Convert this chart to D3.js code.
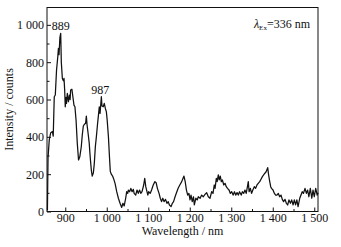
<!DOCTYPE html>
<html>
<head>
<meta charset="utf-8">
<script src="https://cdn.jsdelivr.net/npm/d3@7"></script>
<style>
  body { margin: 0; background: #fff; }
  text { font-family: "Liberation Serif", "Times New Roman", serif; }
</style>
</head>
<body>
<div id="chart"></div>
<script>
// emission spectrum
const wavelength = [857, 858.5, 861.5, 865, 869, 871, 873.5, 876, 879, 882, 883.5, 885, 887, 889, 890.5, 893, 895.5, 897, 898.6, 900,
  901.7, 903, 905, 907.6, 910, 911.7, 913, 916, 918.6, 921, 923.3, 926, 929, 932, 935, 938.6, 941, 943.5, 946.8, 949,
  950.8, 952.5, 955, 957.8, 959.4, 961, 962.8, 965, 967.8, 970, 972.5, 975, 977.6, 979.6, 982, 983.8, 987, 988.5, 991.5, 994,
  996.6, 999, 1001, 1004, 1006.5, 1008.5, 1011, 1014, 1016.5, 1020, 1024, 1028, 1032, 1036, 1039, 1042, 1045.6, 1048, 1050.5, 1052,
  1055, 1058, 1061, 1064, 1066, 1069.7, 1073, 1076, 1079, 1082, 1085, 1089, 1091.5, 1094, 1096, 1099, 1101, 1104.6, 1108, 1112,
  1116, 1119, 1122, 1126, 1129, 1132, 1135, 1138, 1141.6, 1145, 1148, 1151, 1155, 1158, 1161, 1164.6, 1168, 1172, 1176, 1180.6,
  1183.8, 1186, 1189, 1192, 1195, 1198, 1200.6, 1203, 1206, 1209, 1211, 1214.6, 1218, 1220.6, 1225, 1228.6, 1232.6, 1236.7, 1240.7, 1244.7,
  1248.7, 1252.8, 1256, 1259, 1261, 1264, 1266, 1268.8, 1271, 1273.6, 1276, 1278.6, 1282, 1285, 1288, 1291, 1294.6, 1297.8, 1301, 1304.5,
  1307.7, 1310.7, 1314, 1317, 1320, 1324, 1326.8, 1330, 1333, 1336, 1339, 1341, 1343, 1346, 1349, 1352, 1355.5, 1358.7, 1362, 1365,
  1368.5, 1371.7, 1375, 1378, 1381, 1384, 1387.8, 1390, 1392.7, 1395, 1397, 1400.6, 1404, 1407, 1410, 1413.4, 1416.6, 1419.9, 1423, 1426,
  1429.6, 1432.7, 1436, 1439, 1442.5, 1445.6, 1449, 1452, 1455, 1458, 1461, 1465, 1468, 1471, 1474, 1477.7, 1481, 1484, 1487, 1490.5,
  1494, 1497, 1500, 1503.5, 1507, 1509];
const intensity = [5, 290, 385, 422, 428, 404, 615, 624, 758, 829, 874, 840, 930, 955, 800, 713, 700, 713, 651, 561,
  611, 579, 633, 588, 624, 600, 651, 655, 611, 570, 561, 490, 365, 276, 293, 347, 410, 458, 469, 472,
  511, 465, 419, 365, 312, 268, 222, 190, 208, 258, 347, 401, 465, 508, 561, 526, 615, 565, 561, 579,
  552, 535, 490, 401, 293, 215, 200, 190, 176, 151, 106, 71, 44, 22, 44, 30, 71, 106, 97, 115,
  106, 124, 106, 119, 97, 88, 115, 97, 115, 97, 106, 142, 178, 133, 115, 88, 106, 97, 115, 142,
  160, 154, 124, 97, 71, 53, 71, 53, 65, 44, 53, 35, 26, 44, 53, 79, 100, 125, 142, 160,
  178, 190, 160, 115, 88, 97, 62, 88, 53, 79, 35, 71, 62, 79, 71, 88, 79, 92, 101, 79,
  71, 106, 97, 142, 124, 178, 160, 196, 169, 190, 160, 169, 142, 151, 133, 124, 115, 97, 106, 88,
  106, 88, 101, 88, 106, 88, 106, 97, 115, 97, 133, 160, 106, 124, 97, 115, 133, 124, 142, 151,
  160, 173, 187, 196, 205, 213, 235, 196, 160, 133, 124, 115, 97, 88, 88, 97, 79, 88, 65, 53,
  65, 44, 35, 62, 44, 62, 35, 62, 35, 62, 26, 71, 88, 106, 97, 124, 97, 115, 79, 124,
  71, 115, 79, 124, 88, 100];

const xTicks = [900, 1000, 1100, 1200, 1300, 1400, 1500];
const yTicks = [0, 200, 400, 600, 800, 1000];
const peakLabels = [889, 987];
const peakValues = [955, 615];

const svgWidth = 341, svgHeight = 247;
const margin = { top: 7.5, right: 23, bottom: 35.5, left: 47 };
const width = svgWidth - margin.left - margin.right;
const height = svgHeight - margin.top - margin.bottom;

const fmt = d3.formatLocale({ decimal: ".", thousands: " ", grouping: [3], currency: ["", ""] }).format(",");

const svg = d3.select("#chart").append("svg")
    .attr("width", svgWidth)
    .attr("height", svgHeight)
    .style("background", "#fff");

const g = svg.append("g")
    .attr("transform", "translate(" + margin.left + "," + margin.top + ")");

const x = d3.scaleLinear().domain([856, 1509]).range([0, width]);
const y = d3.scaleLinear().domain([0, 1093]).range([height, 0]);

const data = wavelength.map((w, i) => ({ w: w, v: intensity[i] }));

// minor ticks
g.append("g")
    .attr("class", "axis")
    .attr("transform", "translate(0," + height + ")")
    .call(d3.axisBottom(x).tickValues(d3.range(950, 1500, 100)).tickSize(-2.5).tickFormat(""));
g.append("g")
    .attr("class", "axis")
    .call(d3.axisLeft(y).tickValues(d3.range(100, 1100, 200)).tickSize(-2.5).tickFormat(""));

// major ticks
g.append("g")
    .attr("class", "axis")
    .attr("transform", "translate(0," + height + ")")
    .call(d3.axisBottom(x).tickValues(xTicks).tickSize(-4).tickPadding(2).tickFormat(fmt));
g.append("g")
    .attr("class", "axis")
    .call(d3.axisLeft(y).tickValues(yTicks).tickSize(-4).tickPadding(3).tickFormat(fmt));

g.selectAll(".axis .domain").remove();
g.selectAll(".axis line").attr("stroke", "#111");
g.selectAll(".axis text")
    .attr("fill", "#111")
    .style("font-family", "'Liberation Serif', serif")
    .style("font-size", "12px");

const line = d3.line()
    .x(d => x(d.w))
    .y(d => y(d.v));

g.append("path")
    .datum(data)
    .attr("fill", "none")
    .attr("stroke", "#111")
    .attr("stroke-width", 1.25)
    .attr("stroke-linejoin", "round")
    .attr("d", line);

// frame
g.append("rect")
    .attr("width", width)
    .attr("height", height)
    .attr("fill", "none")
    .attr("stroke", "#111")
    .attr("stroke-width", 1);

// peak labels
g.selectAll(".peak")
    .data(peakLabels)
    .enter().append("text")
    .attr("class", "peak")
    .attr("x", (d, i) => x(d) - (i === 0 ? 0 : 1))
    .attr("y", (d, i) => y(peakValues[i]) - 3)
    .attr("text-anchor", "middle")
    .style("font-size", "12px")
    .attr("fill", "#111")
    .text(d => d);

// excitation wavelength note
const note = g.append("text")
    .attr("x", width - 8)
    .attr("y", 20)
    .attr("text-anchor", "end")
    .style("font-size", "12px")
    .attr("fill", "#111");
note.append("tspan").style("font-style", "italic").text("λ");
note.append("tspan").attr("dy", 2.5).style("font-size", "7px").text("Ex");
note.append("tspan").attr("dy", -2.5).text("=336 nm");

svg.append("text")
    .attr("transform", "translate(13," + (margin.top + height / 2) + ") rotate(-90)")
    .attr("text-anchor", "middle")
    .style("font-size", "12px")
    .attr("fill", "#111")
    .text("Intensity / counts");

svg.append("text")
    .attr("x", margin.left + width / 2)
    .attr("y", 235)
    .attr("text-anchor", "middle")
    .style("font-size", "12px")
    .attr("fill", "#111")
    .text("Wavelength / nm");
</script>
</body>
</html>
